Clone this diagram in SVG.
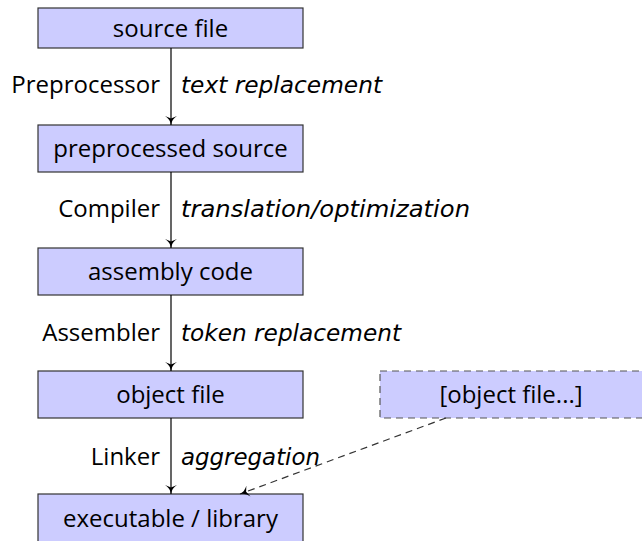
<svg xmlns="http://www.w3.org/2000/svg" width="642" height="541" viewBox="0 0 642 541">
<style>
.box{fill:#ccccff;stroke:#333;stroke-width:1.2}
.dbox{fill:#ccccff;stroke:#555;stroke-width:1.2;stroke-dasharray:7,5}
.t{font-family:"Open Sans","Liberation Sans",sans-serif;font-size:24px;fill:#000}
.c{text-anchor:middle}
.l{text-anchor:end}
.i{font-family:"DejaVu Sans","Open Sans",sans-serif;font-style:italic;font-size:23px}
.e{stroke:#000;stroke-width:1.2;fill:none}
.d{stroke:#333;stroke-width:1.2;fill:none;stroke-dasharray:7,5}
</style>
<defs>
<marker id="ah" markerWidth="10" markerHeight="12" refX="9" refY="6" orient="auto" markerUnits="userSpaceOnUse">
<path d="M0,0 Q3,5 9,6 Q3,7 0,12 L2.5,6 Z" fill="#000"/>
</marker>
</defs>
<g id="source-file"><rect class="box" x="38" y="8" width="265" height="40"/><text class="t c" x="170.5" y="37">source file</text></g>
<g id="preprocessed-source"><rect class="box" x="38" y="125" width="265" height="47"/><text class="t c" x="170.5" y="157">preprocessed source</text></g>
<g id="assembly-code"><rect class="box" x="38" y="248" width="265" height="47"/><text class="t c" x="170.5" y="280">assembly code</text></g>
<g id="object-file"><rect class="box" x="38" y="371" width="265" height="47"/><text class="t c" x="170.5" y="403">object file</text></g>
<g id="object-files"><rect class="dbox" x="380" y="371" width="264" height="47"/><text class="t c" x="511" y="403">[object file...]</text></g>
<g id="executable"><rect class="box" x="38" y="494" width="265" height="48"/><text class="t c" x="170.5" y="527">executable / library</text></g>
<g id="connectors">
<line class="e" x1="171" y1="48" x2="171" y2="125" marker-end="url(#ah)"/>
<line class="e" x1="171" y1="172" x2="171" y2="248" marker-end="url(#ah)"/>
<line class="e" x1="171" y1="295" x2="171" y2="371" marker-end="url(#ah)"/>
<line class="e" x1="171" y1="418" x2="171" y2="494" marker-end="url(#ah)"/>
<line class="d" x1="446" y1="418" x2="240" y2="494" marker-end="url(#ah)"/>
<text class="t l" x="160" y="93">Preprocessor</text>
<text class="t i" x="181" y="93" textLength="201" lengthAdjust="spacingAndGlyphs">text replacement</text>
<text class="t l" x="160" y="217">Compiler</text>
<text class="t i" x="181" y="217" textLength="289" lengthAdjust="spacingAndGlyphs">translation/optimization</text>
<text class="t l" x="160" y="341">Assembler</text>
<text class="t i" x="181" y="341" textLength="220" lengthAdjust="spacingAndGlyphs">token replacement</text>
<text class="t l" x="160" y="465">Linker</text>
<text class="t i" x="181" y="465" textLength="139" lengthAdjust="spacingAndGlyphs">aggregation</text>
</g>
</svg>
